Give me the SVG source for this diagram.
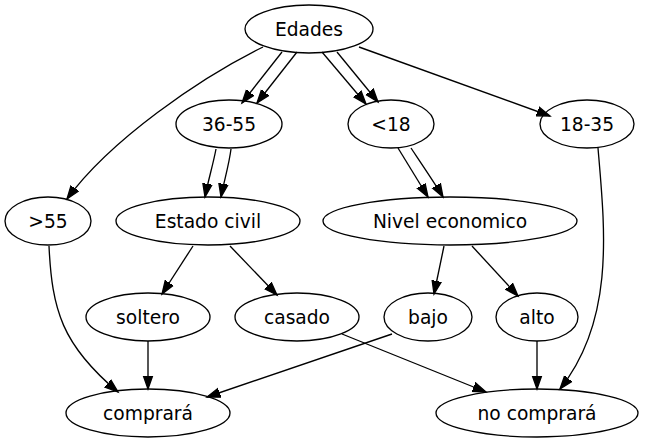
<svg xmlns="http://www.w3.org/2000/svg" width="652" height="443" viewBox="0 0 652 443">
<style>
.n ellipse{fill:none;stroke:#000;stroke-width:1.33}
.n text{font-family:"DejaVu Sans",sans-serif;font-size:18.67px;text-anchor:middle;fill:#000}
#edges path{fill:none;stroke:#000;stroke-width:1.33;marker-end:url(#ah)}
</style>
<defs>
<marker id="ah" markerUnits="userSpaceOnUse" markerWidth="16" markerHeight="12" refX="13.3" refY="0" viewBox="0 -6 16 12" orient="auto">
<path d="M0,-4.67 L13.3,0 L0,4.67 Z" fill="#000" stroke="#000" stroke-width="1.33"/>
</marker>
</defs>
<rect width="652" height="443" fill="#fff"/>
<g id="edges">
<path d="M263,47 C200,78 110,140 67,199"/>
<path d="M282,52 L242,103"/>
<path d="M297,52 L257,103"/>
<path d="M322,52 L366,104"/>
<path d="M337,52 L378,102"/>
<path d="M359,47 L550,116"/>
<path d="M216,149 C213,165 208,181 205,197"/>
<path d="M231,149 C229,165 224,181 221,197"/>
<path d="M398,148 L428,197"/>
<path d="M411,148 C419,160 436,185 443,197"/>
<path d="M598,148 C605,230 615,320 560,389"/>
<path d="M193,246 L162,294"/>
<path d="M230,246 L277,295"/>
<path d="M444,246 L434,294"/>
<path d="M472,246 L518,296"/>
<path d="M49,246 C52,310 62,345 118,392"/>
<path d="M148,341 L148,389"/>
<path d="M392,334 L207,397"/>
<path d="M342,334 L486,392"/>
<path d="M537,341 L537,389"/>
</g>
<g id="n-edades" class="n"><ellipse cx="309" cy="29" rx="64" ry="24"/><text x="309" y="35.5">Edades</text></g>
<g id="n-3655" class="n"><ellipse cx="229" cy="124" rx="53" ry="24"/><text x="229" y="130.5">36-55</text></g>
<g id="n-lt18" class="n"><ellipse cx="391" cy="124" rx="43" ry="24"/><text x="391" y="130.5">&lt;18</text></g>
<g id="n-1835" class="n"><ellipse cx="587" cy="124" rx="47" ry="24"/><text x="587" y="130.5">18-35</text></g>
<g id="n-gt55" class="n"><ellipse cx="48" cy="221" rx="43" ry="24"/><text x="48" y="227.5">&gt;55</text></g>
<g id="n-estado" class="n"><ellipse cx="208" cy="221" rx="92" ry="24"/><text x="208" y="227.5">Estado civil</text></g>
<g id="n-nivel" class="n"><ellipse cx="450" cy="221" rx="127" ry="24"/><text x="450" y="227.5">Nivel economico</text></g>
<g id="n-soltero" class="n"><ellipse cx="148" cy="317" rx="62" ry="24"/><text x="148" y="323.5">soltero</text></g>
<g id="n-casado" class="n"><ellipse cx="297" cy="317" rx="62" ry="24"/><text x="297" y="323.5">casado</text></g>
<g id="n-bajo" class="n"><ellipse cx="428" cy="317" rx="44" ry="24"/><text x="428" y="323.5">bajo</text></g>
<g id="n-alto" class="n"><ellipse cx="537" cy="317" rx="41" ry="24"/><text x="537" y="323.5">alto</text></g>
<g id="n-comprara" class="n"><ellipse cx="148" cy="413" rx="82" ry="24"/><text x="148" y="419.5">comprará</text></g>
<g id="n-nocomprara" class="n"><ellipse cx="537" cy="413" rx="101" ry="24"/><text x="537" y="419.5">no comprará</text></g>
</svg>
